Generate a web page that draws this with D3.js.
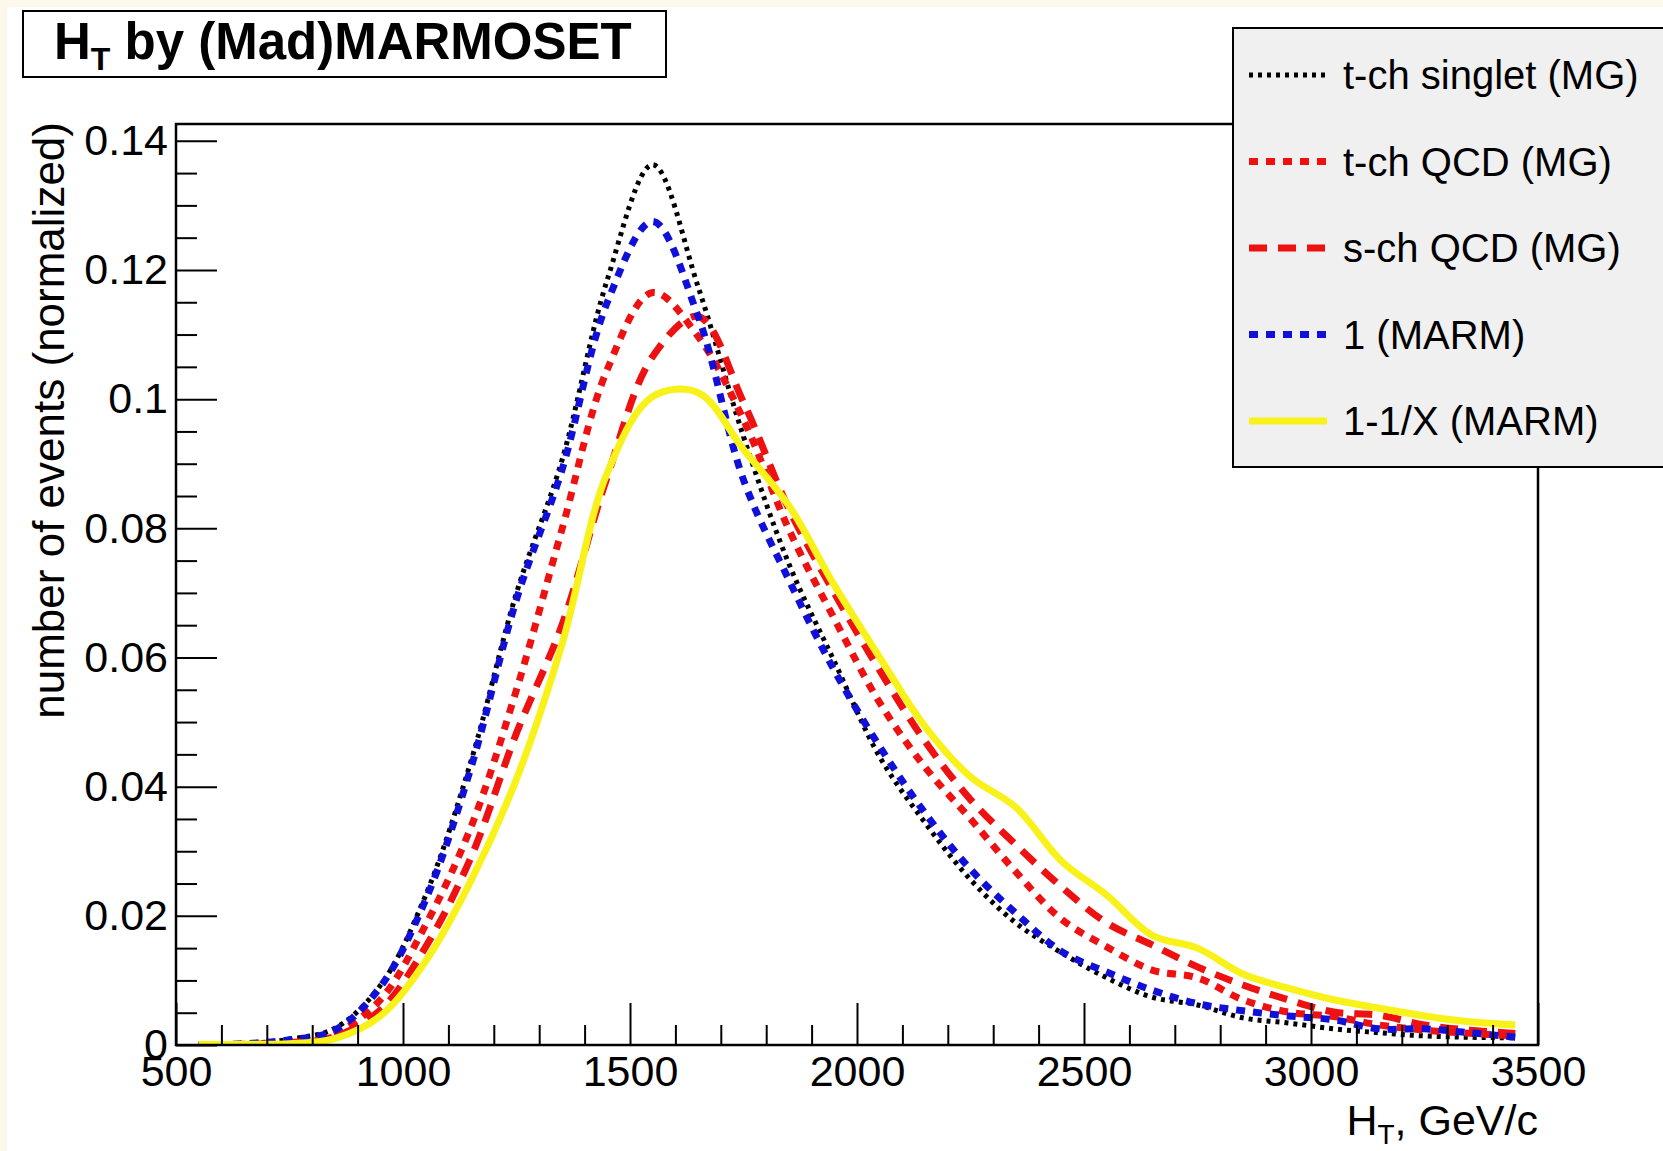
<!DOCTYPE html>
<html lang="en">
<head>
<meta charset="UTF-8">
<title>HT by (Mad)MARMOSET</title>
<script src="https://d3js.org/d3.v7.min.js"></script>
<style>
  body { margin: 0; background: #fdf8ec; }
  svg { display: block; }
  text { font-family: "Liberation Sans", Arial, Helvetica, sans-serif; fill: #000; }
</style>
</head>
<body>
<script>
// bin centres (GeV/c)
var htBins = [550, 650, 750, 850, 950, 1050, 1150, 1250, 1350, 1450,
              1550, 1650, 1750, 1850, 1950, 2050, 2150, 2250, 2350, 2450,
              2550, 2650, 2750, 2850, 2950, 3050, 3150, 3250, 3350, 3450];

var tchSinglet = [0.0000, 0.0002, 0.0009, 0.0026, 0.0092, 0.0232, 0.0440, 0.0700, 0.0905, 0.1185,
                  0.1363, 0.1174, 0.0942, 0.0745, 0.0594, 0.0446, 0.0344, 0.0256, 0.0189, 0.0143,
                  0.0104, 0.0074, 0.0062, 0.0042, 0.0034, 0.0025, 0.0019, 0.0014, 0.0012, 0.0011];
var tchQCD = [0.0000, 0.0001, 0.0005, 0.0018, 0.0070, 0.0186, 0.0338, 0.0550, 0.0798, 0.1046,
              0.1165, 0.1097, 0.0968, 0.0798, 0.0660, 0.0530, 0.0430, 0.0350, 0.0268, 0.0195,
              0.0152, 0.0116, 0.0104, 0.0070, 0.0051, 0.0044, 0.0031, 0.0023, 0.0018, 0.0014];
var schQCD = [0.0000, 0.0001, 0.0004, 0.0013, 0.0054, 0.0152, 0.0291, 0.0483, 0.0650, 0.0880,
              0.1066, 0.1128, 0.0995, 0.0830, 0.0700, 0.0580, 0.0470, 0.0380, 0.0310, 0.0245,
              0.0189, 0.0155, 0.0121, 0.0093, 0.0070, 0.0051, 0.0046, 0.0031, 0.0023, 0.0018];
var marm1 = [0.0000, 0.0002, 0.0008, 0.0023, 0.0090, 0.0225, 0.0430, 0.0690, 0.0890, 0.1150,
             0.1275, 0.1128, 0.0875, 0.0720, 0.0580, 0.0462, 0.0359, 0.0272, 0.0204, 0.0145,
             0.0113, 0.0085, 0.0064, 0.0053, 0.0045, 0.0039, 0.0025, 0.0025, 0.0019, 0.0012];
var marmX = [0.0001, 0.0001, 0.0002, 0.0010, 0.0045, 0.0130, 0.0255, 0.0412, 0.0620, 0.0886,
             0.1004, 0.1010, 0.0922, 0.0835, 0.0712, 0.0600, 0.0493, 0.0415, 0.0368, 0.0285,
             0.0232, 0.0170, 0.0150, 0.0110, 0.0088, 0.0070, 0.0057, 0.0045, 0.0036, 0.0031];

var legendNames = ["t-ch singlet (MG)", "t-ch QCD (MG)", "s-ch QCD (MG)", "1 (MARM)", "1-1/X (MARM)"];

var xMajor = [500, 1000, 1500, 2000, 2500, 3000, 3500];
var xMinor = [600, 700, 800, 900, 1100, 1200, 1300, 1400, 1600, 1700, 1800, 1900,
              2100, 2200, 2300, 2400, 2600, 2700, 2800, 2900, 3100, 3200, 3300, 3400];
var yMajor = [0, 0.02, 0.04, 0.06, 0.08, 0.1, 0.12, 0.14];
var yTickLabels = ["0", "0.02", "0.04", "0.06", "0.08", "0.1", "0.12", "0.14"];
var yMinor = [0.005, 0.01, 0.015, 0.025, 0.03, 0.035, 0.045, 0.05, 0.055, 0.065, 0.07, 0.075,
              0.085, 0.09, 0.095, 0.105, 0.11, 0.115, 0.125, 0.13, 0.135];

var svgWidth = 1663, svgHeight = 1151;
var frame = {left: 176, top: 124, right: 1538, bottom: 1045};

var series = [
    {name: legendNames[0], values: tchSinglet, color: "#000000", width: 5, dash: "4,5"},
    {name: legendNames[1], values: tchQCD, color: "#ee1111", width: 7, dash: "9,8"},
    {name: legendNames[2], values: schQCD, color: "#ee1111", width: 7, dash: "18,11"},
    {name: legendNames[3], values: marm1, color: "#1010d8", width: 7, dash: "9,8"},
    {name: legendNames[4], values: marmX, color: "#f8f21a", width: 7, dash: null}
];

var svg = d3.select("body").append("svg")
    .attr("width", svgWidth)
    .attr("height", svgHeight);

svg.append("rect").attr("x", 7).attr("y", 7)
    .attr("width", svgWidth).attr("height", svgHeight)
    .attr("fill", "#ffffff");

var xScale = d3.scaleLinear().domain([500, 3500]).range([frame.left, frame.right]);
var yScale = d3.scaleLinear().domain([0, 0.1426]).range([frame.bottom, frame.top]);

// curves
svg.append("clipPath").attr("id", "frameClip")
    .append("rect")
    .attr("x", frame.left).attr("y", frame.top)
    .attr("width", frame.right - frame.left).attr("height", frame.bottom - frame.top);

var line = d3.line()
    .x(function (d) { return xScale(d[0]); })
    .y(function (d) { return yScale(d[1]); })
    .curve(d3.curveCatmullRom.alpha(0.5));

var curves = svg.append("g").attr("clip-path", "url(#frameClip)");
series.forEach(function (s) {
    curves.append("path")
        .datum(htBins.map(function (x, i) { return [x, s.values[i]]; }))
        .attr("d", line)
        .attr("fill", "none")
        .attr("stroke", s.color)
        .attr("stroke-width", s.width)
        .attr("stroke-dasharray", s.dash);
});

// frame
svg.append("rect")
    .attr("x", frame.left).attr("y", frame.top)
    .attr("width", frame.right - frame.left).attr("height", frame.bottom - frame.top)
    .attr("fill", "none").attr("stroke", "#000").attr("stroke-width", 2.5);

// y axis
var yAxis = d3.axisLeft(yScale)
    .tickValues(yMajor)
    .tickSizeInner(-41).tickSizeOuter(0).tickPadding(8)
    .tickFormat(function (d, i) { return yTickLabels[i]; });
var yAxisMinor = d3.axisLeft(yScale)
    .tickValues(yMinor)
    .tickSizeInner(-21).tickSizeOuter(0)
    .tickFormat("");
svg.append("g").attr("transform", "translate(" + frame.left + ",0)").call(yAxis);
svg.append("g").attr("transform", "translate(" + frame.left + ",0)").call(yAxisMinor);

// x axis
var xAxis = d3.axisBottom(xScale)
    .tickValues(xMajor)
    .tickSizeInner(-42).tickSizeOuter(0).tickPadding(10)
    .tickFormat(d3.format("d"));
var xAxisMinor = d3.axisBottom(xScale)
    .tickValues(xMinor)
    .tickSizeInner(-20).tickSizeOuter(0)
    .tickFormat("");
svg.append("g").attr("transform", "translate(0," + frame.bottom + ")").call(xAxis);
svg.append("g").attr("transform", "translate(0," + frame.bottom + ")").call(xAxisMinor);

svg.selectAll(".domain").remove();
svg.selectAll(".tick line").attr("stroke", "#000").attr("stroke-width", 2);
svg.selectAll(".tick text")
    .style("font-family", "'Liberation Sans', Arial, sans-serif")
    .attr("font-size", 43)
    .attr("fill", "#000");

// axis titles
svg.append("text")
    .attr("transform", "translate(64,122) rotate(-90)")
    .attr("text-anchor", "end")
    .attr("font-size", 44)
    .text("number of events (normalized)");

var xTitle = svg.append("text")
    .attr("x", frame.right).attr("y", 1135)
    .attr("text-anchor", "end")
    .attr("font-size", 43);
xTitle.append("tspan").text("H");
xTitle.append("tspan").attr("font-size", 28).attr("dy", 9).text("T");
xTitle.append("tspan").attr("dy", -9).text(", GeV/c");

// title box
svg.append("rect")
    .attr("x", 23).attr("y", 11).attr("width", 643).attr("height", 66)
    .attr("fill", "#ffffff").attr("stroke", "#000").attr("stroke-width", 2);
var title = svg.append("text")
    .attr("x", 54).attr("y", 59)
    .attr("font-size", 51).attr("font-weight", "bold");
title.append("tspan").text("H");
title.append("tspan").attr("font-size", 32).attr("dy", 11).text("T");
title.append("tspan").attr("dy", -11).text(" by (Mad)MARMOSET");

// legend
var legend = svg.append("g");
legend.append("rect")
    .attr("x", 1233).attr("y", 28).attr("width", 460).attr("height", 439)
    .attr("fill", "#f0f0f0").attr("stroke", "#000").attr("stroke-width", 2);
var rowY = d3.scalePoint().domain(legendNames).range([75, 421]);
series.forEach(function (s) {
    var yy = rowY(s.name);
    legend.append("line")
        .attr("x1", 1249).attr("x2", 1327)
        .attr("y1", yy).attr("y2", yy)
        .attr("stroke", s.color)
        .attr("stroke-width", s.width)
        .attr("stroke-dasharray", s.dash);
    legend.append("text")
        .attr("x", 1343).attr("y", yy)
        .attr("dy", "0.35em")
        .attr("font-size", 40)
        .text(s.name);
});
</script>
</body>
</html>
